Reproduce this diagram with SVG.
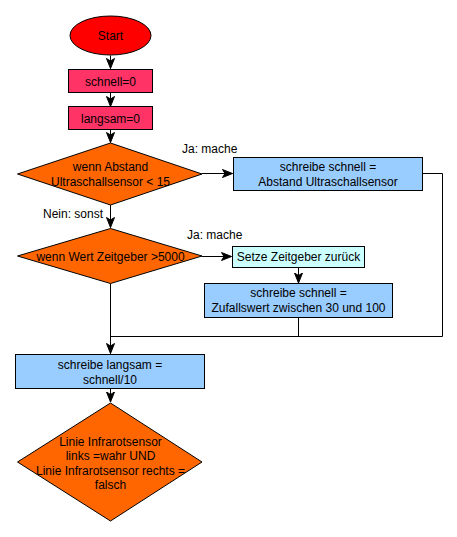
<svg xmlns="http://www.w3.org/2000/svg" width="457" height="537" viewBox="0 0 457 537">
<defs>
<style>
text{font-family:"Liberation Sans",Arial,sans-serif;font-size:12px;fill:#000;text-anchor:middle}
.lbl{text-anchor:start}
.n{stroke:#000;stroke-width:1}
.e{fill:none;stroke:#000;stroke-width:1}
</style>
<marker id="a" markerWidth="12" markerHeight="10" refX="10.5" refY="5" orient="auto" markerUnits="userSpaceOnUse">
<path d="M0.5,1 L10.5,5 L0.5,9 L3,5 z" fill="#000" stroke="#000" stroke-width="1"/>
</marker>
</defs>
<rect width="457" height="537" fill="#fff"/>
<g id="connectors">
<line class="e" x1="110.5" y1="55.5" x2="110.5" y2="68.5" marker-end="url(#a)"/>
<line class="e" x1="110.5" y1="92.5" x2="110.5" y2="106.5" marker-end="url(#a)"/>
<line class="e" x1="110.5" y1="129.5" x2="110.5" y2="142.5" marker-end="url(#a)"/>
<line class="e" x1="202" y1="173.5" x2="232.5" y2="173.5" marker-end="url(#a)"/>
<line class="e" x1="110.5" y1="205" x2="110.5" y2="227.5" marker-end="url(#a)"/>
<line class="e" x1="202" y1="256.5" x2="231.5" y2="256.5" marker-end="url(#a)"/>
<line class="e" x1="298.5" y1="267.5" x2="298.5" y2="283" marker-end="url(#a)"/>
<polyline class="e" points="423,173.5 442.5,173.5 442.5,336.5 110.5,336.5"/>
<line class="e" x1="298.5" y1="317.5" x2="298.5" y2="336.5"/>
<line class="e" x1="110.5" y1="283.5" x2="110.5" y2="353.5" marker-end="url(#a)"/>
<line class="e" x1="110.5" y1="388.5" x2="110.5" y2="402" marker-end="url(#a)"/>
<text class="lbl" x="182" y="153">Ja: mache</text>
<text class="lbl" x="43" y="218">Nein: sonst</text>
<text class="lbl" x="187" y="239">Ja: mache</text>
</g>
<g id="start">
<ellipse class="n" cx="110.5" cy="35.5" rx="40.5" ry="19.5" fill="#FF0000"/>
<text x="110.5" y="40">Start</text>
</g>
<g id="schnell0">
<rect class="n" x="68.5" y="69.5" width="84" height="23" fill="#FF3366"/>
<text x="110.5" y="85.5">schnell=0</text>
</g>
<g id="langsam0">
<rect class="n" x="68.5" y="106.5" width="84" height="23" fill="#FF3366"/>
<text x="110.5" y="122.5">langsam=0</text>
</g>
<g id="dec1">
<polygon class="n" points="110.5,143 202,174 110.5,205 17.5,174" fill="#FF6600"/>
<text x="110.5" y="171">wenn Abstand</text>
<text x="110.5" y="186">Ultraschallsensor &lt; 15</text>
</g>
<g id="set1">
<rect class="n" x="233.5" y="157.5" width="189" height="33" fill="#99CCFF"/>
<text x="328" y="171">schreibe schnell =</text>
<text x="328" y="186">Abstand Ultraschallsensor</text>
</g>
<g id="dec2">
<polygon class="n" points="110.5,228.5 202,256 110.5,283.5 17.5,256" fill="#FF6600"/>
<text x="110.5" y="260.5">wenn Wert Zeitgeber &gt;5000</text>
</g>
<g id="reset">
<rect class="n" x="232.5" y="246.5" width="132" height="21" fill="#CCFFFF"/>
<text x="298.5" y="261">Setze Zeitgeber zurück</text>
</g>
<g id="set2">
<rect class="n" x="204.5" y="283.5" width="188" height="34" fill="#99CCFF"/>
<text x="298.5" y="297">schreibe schnell =</text>
<text x="298.5" y="312">Zufallswert zwischen 30 und 100</text>
</g>
<g id="langsam">
<rect class="n" x="15.5" y="354.5" width="189" height="34" fill="#99CCFF"/>
<text x="110" y="369">schreibe langsam =</text>
<text x="110" y="384">schnell/10</text>
</g>
<g id="dec3">
<polygon class="n" points="110.5,403 202,462 110.5,521 17.5,462" fill="#FF6600"/>
<text x="110.5" y="446">Linie Infrarotsensor</text>
<text x="110.5" y="459.5">links =wahr UND</text>
<text x="110.5" y="474.5">Linie Infrarotsensor rechts =</text>
<text x="110.5" y="489">falsch</text>
</g>
</svg>
